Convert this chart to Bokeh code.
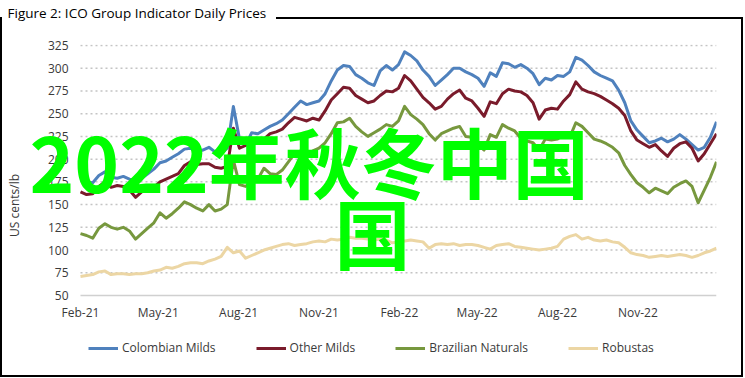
import pandas as pd
from bokeh.plotting import figure
from bokeh.models import (Range1d, FixedTicker, DatetimeTickFormatter, Legend,
                          LegendItem, Label, Title)
from bokeh.embed import file_html
from bokeh.resources import INLINE

# ---------------- data (US cents/lb, weekly readings) ----------------
start_date = "2021-02-01"
n_weeks = 105
dates = pd.date_range(start_date, periods=n_weeks, freq="7D")

colombian_milds = [
    177, 175, 174, 182, 186, 180, 179, 181, 178, 176,
    179, 184, 189, 196, 198, 202, 206, 211, 212, 208,
    210, 213, 208, 206, 212, 258, 222, 216, 229, 228,
    232, 236, 239, 243, 250, 257, 264, 260, 262, 264,
    272, 286, 298, 303, 302, 293, 289, 284, 281, 297,
    303, 298, 304, 318, 314, 308, 298, 291, 281, 287,
    293, 300, 300, 296, 293, 289, 280, 295, 291, 306,
    305, 301, 304, 300, 294, 282, 289, 287, 292, 291,
    296, 312, 309, 303, 296, 292, 289, 286, 276, 262,
    242, 232, 225, 218, 220, 223, 219, 222, 227, 222,
    216, 210, 213, 224, 241]

other_milds = [
    164, 161, 162, 170, 175, 169, 171, 170, 166, 158,
    164, 167, 169, 175, 178, 181, 184, 193, 197, 194,
    195, 195, 191, 190, 192, 234, 212, 215, 218, 219,
    222, 228, 230, 233, 240, 246, 244, 242, 245, 243,
    253, 265, 272, 279, 278, 270, 266, 262, 264, 270,
    275, 274, 278, 292, 286, 277, 268, 262, 255, 258,
    266, 272, 276, 267, 264, 256, 247, 263, 261, 272,
    277, 275, 274, 270, 262, 244, 254, 256, 255, 264,
    271, 285, 277, 274, 272, 269, 265, 261, 256, 248,
    231, 221, 217, 213, 216, 209, 203, 212, 217, 219,
    212, 198, 206, 217, 228]

brazilian_naturals = [
    118, 116, 113, 124, 129, 125, 123, 125, 121, 112,
    118, 124, 130, 141, 135, 140, 146, 153, 150, 146,
    143, 150, 143, 145, 150, 199, 172, 170, 175, 178,
    190, 184, 183, 188, 197, 206, 209, 203, 209, 212,
    218, 228, 240, 241, 245, 236, 230, 225, 229, 233,
    238, 236, 242, 258, 249, 244, 238, 228, 221, 228,
    231, 234, 236, 225, 224, 216, 210, 227, 224, 238,
    234, 231, 223, 220, 218, 210, 222, 221, 222, 227,
    224, 240, 236, 229, 222, 220, 217, 213, 207, 193,
    183, 174, 169, 163, 168, 165, 162, 169, 173, 176,
    170, 152, 166, 180, 197]

robustas = [
    71, 72, 73, 76, 77, 73, 74, 74, 73, 74,
    74, 75, 77, 78, 81, 80, 82, 85, 86, 86,
    85, 88, 90, 93, 103, 97, 99, 91, 94, 97,
    100, 102, 104, 106, 107, 105, 106, 107, 109, 110,
    109, 112, 111, 112, 114, 113, 113, 112, 111, 112,
    111, 108, 109, 110, 111, 110, 109, 102, 106, 107,
    106, 107, 105, 106, 106, 105, 103, 101, 105, 106,
    107, 104, 103, 102, 101, 100, 101, 102, 104, 112,
    115, 117, 112, 114, 111, 110, 111, 109, 108, 103,
    97, 95, 94, 92, 93, 94, 93, 94, 95, 94,
    92, 94, 97, 99, 102]

series_names = ["Colombian Milds", "Other Milds", "Brazilian Naturals", "Robustas"]
series_colors = ["#4f81bd", "#7a1b2b", "#77983e", "#ecd6a4"]
y_ticks = [50, 75, 100, 125, 150, 175, 200, 225, 250, 275, 300, 325]
x_tick_dates = ["2021-02-01", "2021-05-01", "2021-08-01", "2021-11-01",
                "2022-02-01", "2022-05-01", "2022-08-01", "2022-11-01"]
title_text = "Figure 2: ICO Group Indicator Daily Prices"
y_title = "US cents/lb"
overlay_line1 = "2022年秋冬中国"
overlay_line2 = "国"

FONT = "Open Sans"
TXT = "#3a3a3a"

# ---------------- layout (pixels) ----------------
W, H = 745, 378
FRAME_L, FRAME_R, FRAME_T, FRAME_B = 30, 716, 44, 366
DATA_L = 80          # x pixel of the first observation
AXIS_Y = 295         # y pixel of the value-50 baseline
px_per_day = (FRAME_R - DATA_L) / (dates[-1] - dates[0]).days
x_start = dates[0] - pd.Timedelta(days=(DATA_L - FRAME_L) / px_per_day)
px_per_unit = (AXIS_Y - 45) / (325 - 50)


def date_at(px):
    return dates[0] + pd.Timedelta(days=(px - DATA_L) / px_per_day)


def value_at(py):
    return 50 + (AXIS_Y - py) / px_per_unit


p = figure(width=W, height=H, output_backend="svg", toolbar_location=None,
           x_axis_type="datetime",
           x_range=Range1d(x_start, dates[-1]),
           y_range=Range1d(value_at(FRAME_B), value_at(FRAME_T)),
           min_border_left=FRAME_L, min_border_right=W - FRAME_R,
           min_border_top=FRAME_T, min_border_bottom=H - FRAME_B)
p.outline_line_color = None
p.background_fill_color = "white"
p.border_fill_color = None
p.styles = {
    "background-color": "white",
    "background-image": ("linear-gradient(#000,#000), linear-gradient(#000,#000), "
                         "linear-gradient(#000,#000), linear-gradient(#000,#000)"),
    "background-repeat": "no-repeat",
    "background-size": "2px 360px, 2px 360px, 743px 2px, 467px 2px",
    "background-position": "0px 17px, 741px 17px, 0px 375px, 276px 17px",
}

# dotted horizontal gridlines across the data span
grid_levels = y_ticks[1:]
p.segment(x0=[dates[0]] * len(grid_levels), x1=[dates[-1]] * len(grid_levels),
          y0=grid_levels, y1=grid_levels, line_color="#c4c4c4",
          line_width=1.5, line_dash="2 3")
# solid category-axis line at the bottom value
p.segment(x0=[dates[0]], x1=[dates[-1]], y0=[y_ticks[0]], y1=[y_ticks[0]],
          line_color="#d0d0d0", line_width=1.5)

series = [colombian_milds, other_milds, brazilian_naturals, robustas]
renderers = []
for vals, c in zip(series, series_colors):
    r = p.line(dates, vals, line_color=c, line_width=3, line_join="round")
    renderers.append(r)

p.xgrid.grid_line_color = None
p.ygrid.grid_line_color = None

# y axis (labels pulled to the right, next to the data area)
p.yaxis.ticker = FixedTicker(ticks=y_ticks)
p.yaxis.axis_line_color = None
p.yaxis.major_tick_line_color = None
p.yaxis.minor_tick_line_color = None
p.yaxis.major_tick_out = 0
p.yaxis.major_tick_in = 0
p.yaxis.minor_tick_out = 0
p.yaxis.major_label_standoff = -(68 - FRAME_L)
p.yaxis.major_label_text_font = FONT
p.yaxis.major_label_text_font_size = "12px"
p.yaxis.major_label_text_color = TXT
p.yaxis.axis_label = y_title
p.yaxis.axis_label_text_font = FONT
p.yaxis.axis_label_text_font_size = "12px"
p.yaxis.axis_label_text_font_style = "normal"
p.yaxis.axis_label_text_color = TXT
p.yaxis.axis_label_standoff = 22

# x axis (labels pulled up, right under the value-50 line)
tick_ms = [pd.Timestamp(d).value / 1e6 for d in x_tick_dates]
p.xaxis.ticker = FixedTicker(ticks=tick_ms)
p.xaxis.formatter = DatetimeTickFormatter(days="%b-%y", months="%b-%y", years="%b-%y")
p.xaxis.axis_line_color = None
p.xaxis.major_tick_line_color = None
p.xaxis.minor_tick_line_color = None
p.xaxis.major_tick_out = 0
p.xaxis.major_tick_in = 0
p.xaxis.minor_tick_out = 0
p.xaxis.major_label_standoff = 303 - FRAME_B
p.xaxis.major_label_text_font = FONT
p.xaxis.major_label_text_font_size = "12px"
p.xaxis.major_label_text_color = TXT

# title (a spacer panel sits between it and the plot area)
p.add_layout(Title(text=" ", text_font_size="18px", standoff=0), "above")
p.title.text = title_text
p.title.align = "left"
p.title.offset = -(FRAME_L - 7)
p.title.standoff = 1
p.title.text_font = FONT
p.title.text_font_size = "13.5px"
p.title.text_font_style = "normal"
p.title.text_color = "#000000"

# legend (inside the frame area, below the tick labels)
items = [LegendItem(label=n, renderers=[r]) for n, r in zip(series_names, renderers)]
legend = Legend(items=items, orientation="horizontal",
                location=(88 - FRAME_L, FRAME_B - 356),
                glyph_width=30, glyph_height=16, label_standoff=4, spacing=40,
                padding=0, margin=0, border_line_color=None,
                background_fill_alpha=0,
                label_text_font=FONT, label_text_font_size="12px",
                label_text_color=TXT)
p.add_layout(legend)

# green overlay text
p.add_layout(Label(x=date_at(29), y=value_at(159), text=overlay_line1,
                   text_align="left", text_baseline="alphabetic",
                   text_font="Noto Sans CJK SC", text_font_size="76px",
                   text_font_style="bold", text_color="#00ff00", level="overlay"))
p.add_layout(Label(x=date_at(334), y=value_at(230), text=overlay_line2,
                   text_align="left", text_baseline="alphabetic",
                   text_font="Noto Sans CJK SC", text_font_size="76px",
                   text_font_style="bold", text_color="#00ff00", level="overlay"))

open("out.html", "w").write(file_html(p, INLINE))
